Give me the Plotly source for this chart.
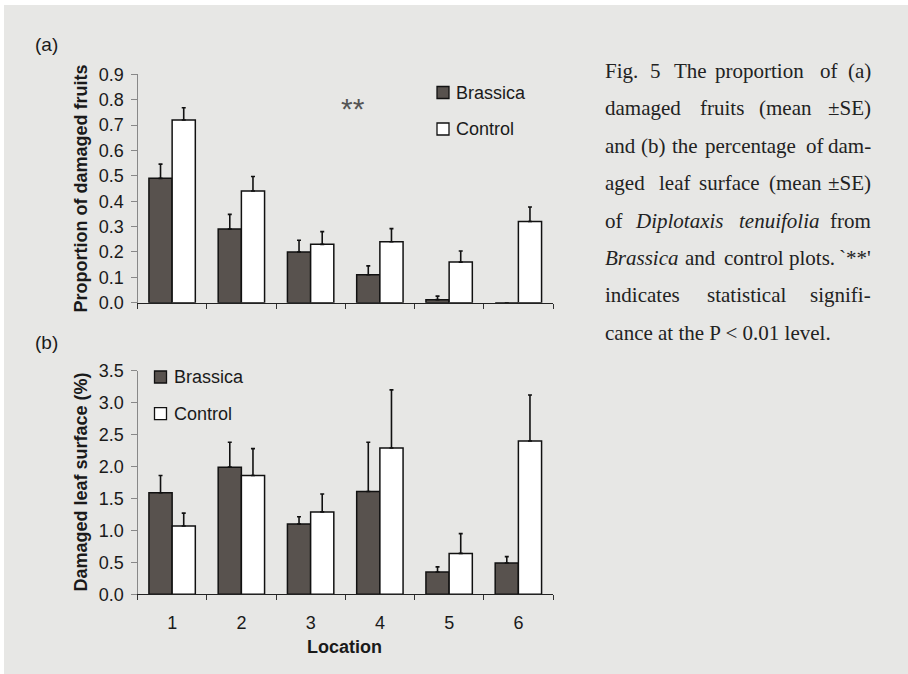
import plotly.graph_objects as go
from plotly.subplots import make_subplots

# ---------------- data ----------------
locations = ["1", "2", "3", "4", "5", "6"]
series_names = ["Brassica", "Control"]

fruits_brassica = [0.49, 0.29, 0.20, 0.11, 0.012, 0.0]
fruits_brassica_se = [0.056, 0.058, 0.046, 0.035, 0.014, 0.0]
fruits_control = [0.72, 0.44, 0.23, 0.24, 0.16, 0.32]
fruits_control_se = [0.048, 0.057, 0.050, 0.052, 0.044, 0.057]

leaf_brassica = [1.59, 1.99, 1.10, 1.61, 0.35, 0.49]
leaf_brassica_se = [0.27, 0.39, 0.115, 0.77, 0.08, 0.10]
leaf_control = [1.07, 1.86, 1.29, 2.29, 0.64, 2.40]
leaf_control_se = [0.20, 0.42, 0.28, 0.91, 0.31, 0.72]

y_title_a = "Proportion of damaged fruits"
y_title_b = "Damaged leaf surface (%)"
x_title = "Location"

caption_lines = [
    ["Fig.", "5", "The", "proportion", "of", "(a)"],
    ["damaged", "fruits", "(mean", "±SE)"],
    ["and", "(b)", "the", "percentage", "of", "dam-"],
    ["aged", "leaf", "surface", "(mean", "±SE)"],
    ["of", "<i>Diplotaxis</i>", "<i>tenuifolia</i>", "from"],
    ["<i>Brassica</i>", "and", "control", "plots.", "`**'"],
    ["indicates", "statistical", "signifi-"],
    ["cance at the P &lt; 0.01 level."],
]

# ---------------- style ----------------
W, H = 908, 674
SANS = "Liberation Sans, Arial, sans-serif"
SERIF = "Liberation Serif, Times New Roman, serif"
DARK = "#58524e"
BG = "#e7e7e5"


def px(x):
    return x / W


def py(y):
    return 1 - y / H


fig = make_subplots(rows=2, cols=1)

sets = [
    (1, [fruits_brassica, fruits_control], [fruits_brassica_se, fruits_control_se]),
    (2, [leaf_brassica, leaf_control], [leaf_brassica_se, leaf_control_se]),
]
fills = [DARK, "white"]
for row, vals, ses in sets:
    for i, name in enumerate(series_names):
        fig.add_trace(
            go.Bar(
                x=locations,
                y=vals[i],
                name=name,
                showlegend=False,
                marker=dict(color=fills[i], line=dict(color="#111", width=1.5)),
                error_y=dict(
                    type="data",
                    array=ses[i],
                    arrayminus=[0] * len(ses[i]),
                    symmetric=False,
                    color="#111",
                    thickness=1.6,
                    width=2,
                ),
            ),
            row=row,
            col=1,
        )

xdom = [px(137.5), px(553)]
fig.update_layout(
    width=W,
    height=H,
    margin=dict(l=0, r=0, t=0, b=0, pad=0, autoexpand=False),
    paper_bgcolor=BG,
    plot_bgcolor="rgba(0,0,0,0)",
    barmode="group",
    bargap=0.33,
    bargroupgap=0,
    font=dict(family=SANS, size=18, color="#1a1a1a"),
)

xcommon = dict(
    type="category",
    range=[-0.5, 5.5],
    domain=xdom,
    automargin=False,
    showline=True,
    linecolor="#222",
    linewidth=1.3,
    ticks="outside",
    tickson="boundaries",
    ticklen=5,
    tickcolor="#333",
    tickwidth=1,
    showgrid=False,
    zeroline=False,
)
fig.update_xaxes(**xcommon)
fig.update_xaxes(showticklabels=False, row=1, col=1)
fig.update_xaxes(
    showticklabels=True,
    tickfont=dict(family=SANS, size=18, color="#1a1a1a"),
    ticklabelstandoff=12,
    row=2,
    col=1,
)

ycommon = dict(
    automargin=False,
    showline=True,
    linecolor="#888",
    linewidth=1,
    ticks="outside",
    ticklen=6,
    tickcolor="#888",
    tickwidth=1,
    showgrid=False,
    zeroline=False,
    tickformat=".1f",
    tickfont=dict(family=SANS, size=18, color="#1a1a1a"),
    ticklabelstandoff=3,
)
fig.update_yaxes(**ycommon)
fig.update_yaxes(range=[0, 0.9], dtick=0.1, domain=[py(302.7), py(74.3)], row=1, col=1)
fig.update_yaxes(range=[0, 3.5], dtick=0.5, domain=[py(594.3), py(370.7)], row=2, col=1)

# thin white page strips at top and left, gray panel elsewhere
shapes = [
    dict(type="rect", xref="paper", yref="paper", x0=0, x1=1, y0=py(5), y1=1,
         fillcolor="white", line=dict(width=0), layer="below"),
    dict(type="rect", xref="paper", yref="paper", x0=0, x1=px(4), y0=0, y1=1,
         fillcolor="white", line=dict(width=0), layer="below"),
]
annotations = []


def add_text(text, x, y, size=18, xanchor="left", yanchor="middle", family=SANS,
             color="#1a1a1a", angle=0):
    annotations.append(dict(
        text=text, x=px(x), y=py(y), xref="paper", yref="paper",
        xanchor=xanchor, yanchor=yanchor, showarrow=False, textangle=angle,
        font=dict(family=family, size=size, color=color),
    ))


# panel labels
add_text("(a)", 33, 44, size=19)
add_text("(b)", 33, 342, size=19)

# axis titles
add_text("<b>" + y_title_a + "</b>", 80, 188.5, size=18, xanchor="center", angle=-90)
add_text("<b>" + y_title_b + "</b>", 80, 482.5, size=18, xanchor="center", angle=-90)
add_text("<b>" + x_title + "</b>", 344.5, 647, size=18, xanchor="center")

# significance mark
add_text("**", 352.5, 109, size=30, xanchor="center", color="#555")

# legends (drawn manually)
legend_pos = [
    (443, [92.5, 129], 454),
    (160.5, [377, 413.7], 171.7),
]
for bx, ys, tx in legend_pos:
    for i, name in enumerate(series_names):
        cy = ys[i]
        shapes.append(dict(type="rect", xref="paper", yref="paper",
                           x0=px(bx - 6), x1=px(bx + 6), y0=py(cy + 6), y1=py(cy - 6),
                           fillcolor=fills[i], line=dict(color="#111", width=1.3)))
        add_text(name, tx, cy, size=18)

# caption: justified by placing words at their start positions
left, right = 603.3, 873.3
baselines = [78 + 37.4 * i for i in range(8)]
word_starts = [
    [None, 648.3, 671.7, 713.3, 818.0, None],
    [None, 698.3, 756.7, None],
    [None, 639.0, 670.0, 703.0, 804.0, None],
    [None, 656.7, 696.7, 766.7, None],
    [None, 633.3, 736.7, None],
    [None, 683.3, 722.0, 786.5, None],
    [None, 705.0, None],
    [None],
]
for words, starts, base in zip(caption_lines, word_starts, baselines):
    yc = base - 7
    n = len(words)
    for j, w in enumerate(words):
        if j == 0:
            add_text(w, left, yc, size=21, family=SERIF, xanchor="left", color="#222")
        elif j == n - 1:
            add_text(w, right, yc, size=21, family=SERIF, xanchor="right", color="#222")
        else:
            add_text(w, starts[j], yc, size=21, family=SERIF, xanchor="left", color="#222")

fig.update_layout(shapes=shapes, annotations=annotations)
fig.write_html(
    "out.html",
    post_script="document.body.style.margin='0';document.body.style.background='%s';" % BG,
)
